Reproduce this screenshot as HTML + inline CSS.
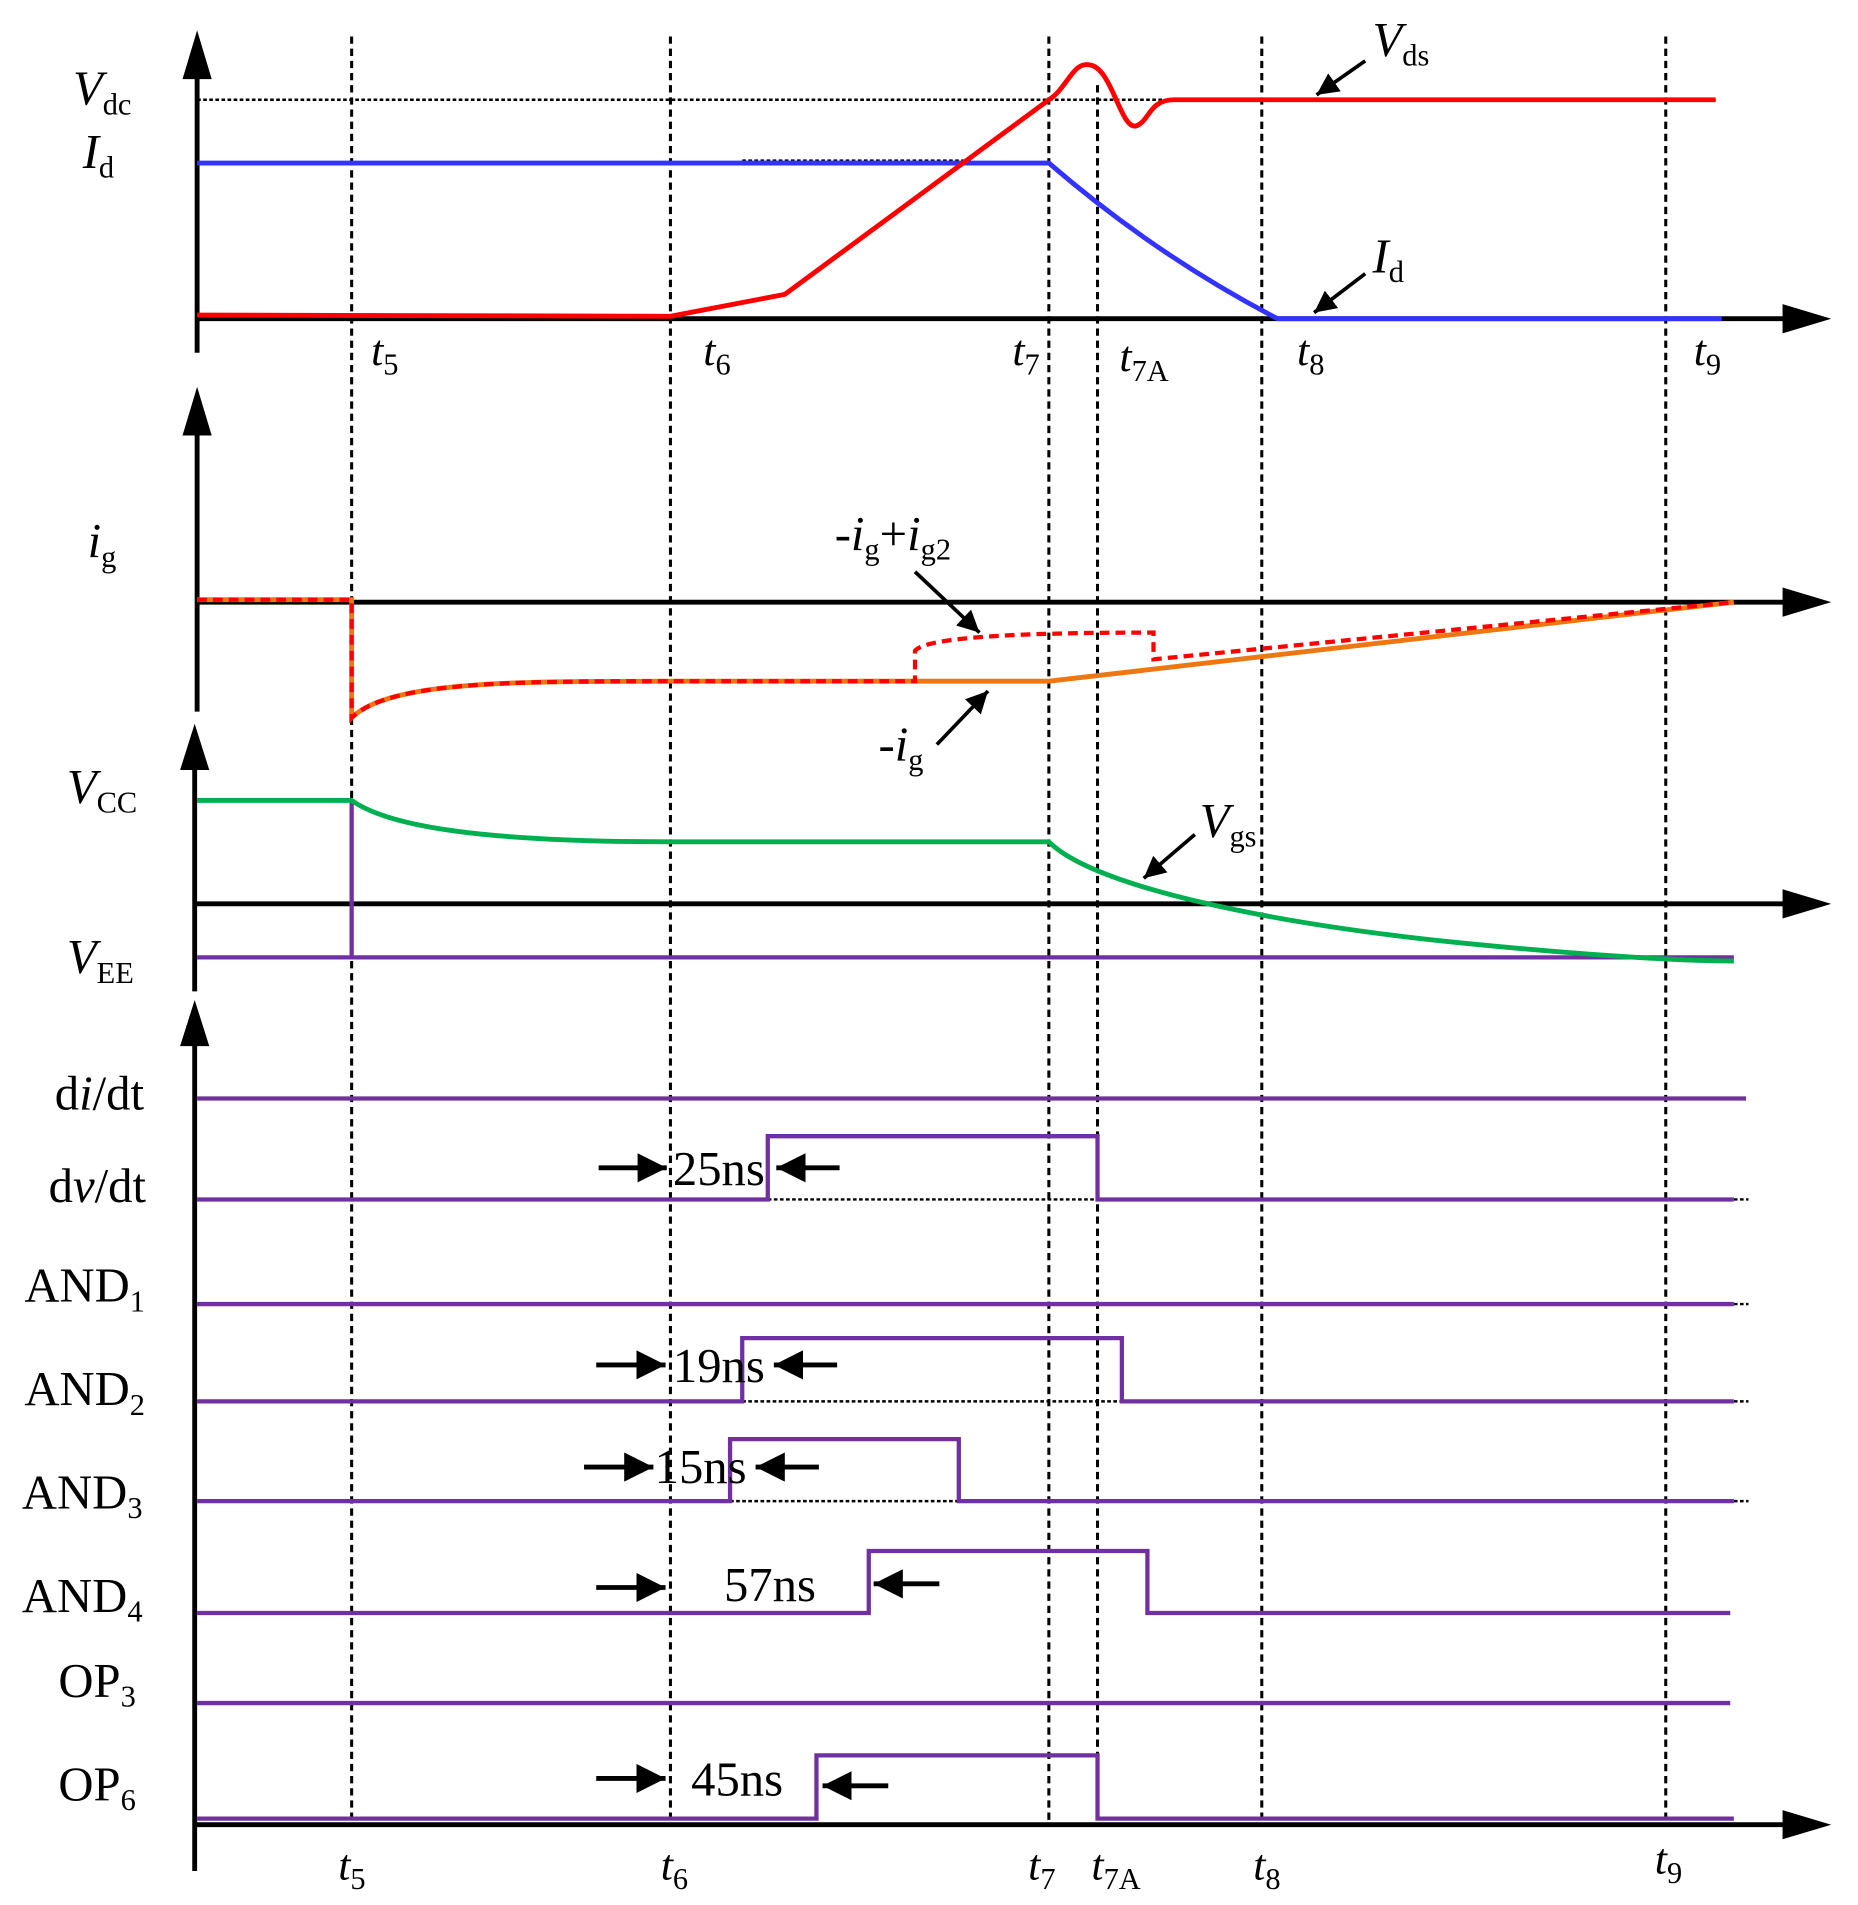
<!DOCTYPE html>
<html><head><meta charset="utf-8"><style>
html,body{margin:0;padding:0;background:#fff}
svg{display:block}
text{font-family:"Liberation Serif",serif;fill:#000}
.l{font-size:40px}
.t{font-size:36px;font-style:italic}
.s{font-size:25px;font-style:normal}
</style></head><body>
<svg width="1858" height="1905" viewBox="0 0 1527 1566" preserveAspectRatio="none" xmlns="http://www.w3.org/2000/svg">
<defs>
<marker id="ah" viewBox="0 0 10 10" refX="10" refY="5" markerWidth="6" markerHeight="6" orient="auto"><path d="M0,0 L10,5 L0,10z" fill="#000"/></marker>
</defs>
<g stroke="#000" stroke-width="2.5" stroke-dasharray="6,4">
<line x1="289" y1="30" x2="289" y2="1500"/>
<line x1="551" y1="30" x2="551" y2="1500"/>
<line x1="862" y1="30" x2="862" y2="1500"/>
<line x1="902" y1="70" x2="902" y2="1500"/>
<line x1="1037" y1="30" x2="1037" y2="1500"/>
<line x1="1369" y1="30" x2="1369" y2="1500"/>
</g>
<g stroke="#000" stroke-width="4" fill="none">
<line x1="162" y1="290" x2="162" y2="60"/>
<line x1="162" y1="262" x2="1470" y2="262"/>
<line x1="162" y1="585" x2="162" y2="350"/>
<line x1="162" y1="495" x2="1470" y2="495"/>
<line x1="160" y1="815" x2="160" y2="625"/>
<line x1="160" y1="743" x2="1470" y2="743"/>
<line x1="160" y1="1538" x2="160" y2="855"/>
<line x1="160" y1="1500" x2="1470" y2="1500"/>
</g>
<g fill="#000">
<path d="M150,65 L162,25 L174,65z"/><path d="M1465,250 L1505,262 L1465,274z"/>
<path d="M150,358 L162,318 L174,358z"/><path d="M1465,483 L1505,495 L1465,507z"/>
<path d="M148,633 L160,595 L172,633z"/><path d="M1465,731 L1505,743 L1465,755z"/>
<path d="M148,860 L160,822 L172,860z"/><path d="M1465,1488 L1505,1500 L1465,1512z"/>
</g>
<line x1="162" y1="82" x2="1410" y2="82" stroke="#000" stroke-width="2" stroke-dasharray="3,2"/>
<line x1="610" y1="132" x2="800" y2="132" stroke="#000" stroke-width="2" stroke-dasharray="3,2"/>
<path d="M162,134 L862,134 Q950,210 1050,262 L1415,262" stroke="#3333ff" stroke-width="4" fill="none"/>
<path d="M162,259 L551,260 L645,242 L862,82 C878,72 882,48 898,54 C915,60 922,110 935,103 C945,98 945,82 965,82 L1410,82" stroke="#ff0000" stroke-width="4" fill="none"/>
<text class="l" x="60" y="86"><tspan font-style="italic">V</tspan><tspan class="s" dy="8">dc</tspan></text>
<text class="l" x="68" y="138"><tspan font-style="italic">I</tspan><tspan class="s" dy="8">d</tspan></text>
<text class="l" x="1128" y="46"><tspan font-style="italic">V</tspan><tspan class="s" dy="8">ds</tspan></text>
<line x1="1122" y1="50" x2="1082" y2="78" stroke="#000" stroke-width="3" marker-end="url(#ah)"/>
<text class="l" x="1128" y="224"><tspan font-style="italic">I</tspan><tspan class="s" dy="8">d</tspan></text>
<line x1="1122" y1="225" x2="1080" y2="257" stroke="#000" stroke-width="3" marker-end="url(#ah)"/>
<text class="t" x="305" y="300">t<tspan class="s" dy="8">5</tspan></text>
<text class="t" x="578" y="300">t<tspan class="s" dy="8">6</tspan></text>
<text class="t" x="832" y="300">t<tspan class="s" dy="8">7</tspan></text>
<text class="t" x="920" y="305">t<tspan class="s" dy="8">7A</tspan></text>
<text class="t" x="1066" y="300">t<tspan class="s" dy="8">8</tspan></text>
<text class="t" x="1392" y="300">t<tspan class="s" dy="8">9</tspan></text>
<path d="M162,493 L289,493 L289,590 C320,560 420,560 551,560 L862,560 L1425,495" stroke="#ee7711" stroke-width="4" fill="none"/>
<path d="M162,493 L289,493 L289,590 C320,560 420,560 551,560 L752,560 L752,535 C760,525 820,520 948,520 L948,542 L1425,495" stroke="#ff0000" stroke-width="3.5" stroke-dasharray="8,5" fill="none"/>
<text class="l" x="72" y="458"><tspan font-style="italic">i</tspan><tspan class="s" dy="8">g</tspan></text>
<text class="l" x="686" y="452">-<tspan font-style="italic">i</tspan><tspan class="s" dy="8">g</tspan><tspan dy="-8">+</tspan><tspan font-style="italic">i</tspan><tspan class="s" dy="8">g2</tspan></text>
<line x1="752" y1="470" x2="805" y2="520" stroke="#000" stroke-width="3" marker-end="url(#ah)"/>
<text class="l" x="722" y="625">-<tspan font-style="italic">i</tspan><tspan class="s" dy="8">g</tspan></text>
<line x1="770" y1="612" x2="812" y2="568" stroke="#000" stroke-width="3" marker-end="url(#ah)"/>
<path d="M162,787 L289,787 M289,658 L289,787 L1425,787" stroke="#7030a0" stroke-width="3.5" fill="none"/>
<path d="M162,658 L289,658 C320,680 400,692 551,692 L862,692 C900,730 1050,760 1200,775 C1300,785 1380,790 1425,790" stroke="#00b050" stroke-width="4" fill="none"/>
<text class="l" x="55" y="660"><tspan font-style="italic">V</tspan><tspan class="s" dy="8">CC</tspan></text>
<text class="l" x="55" y="800"><tspan font-style="italic">V</tspan><tspan class="s" dy="8">EE</tspan></text>
<text class="l" x="986" y="688"><tspan font-style="italic">V</tspan><tspan class="s" dy="8">gs</tspan></text>
<line x1="982" y1="686" x2="940" y2="722" stroke="#000" stroke-width="3" marker-end="url(#ah)"/>
<g stroke="#000" stroke-width="2" stroke-dasharray="3,2">
<line x1="631" y1="986" x2="902" y2="986"/><line x1="1425" y1="986" x2="1437" y2="986"/>
<line x1="1425" y1="1072" x2="1437" y2="1072"/>
<line x1="610" y1="1152" x2="922" y2="1152"/><line x1="1425" y1="1152" x2="1437" y2="1152"/>
<line x1="600" y1="1234" x2="788" y2="1234"/><line x1="1425" y1="1234" x2="1437" y2="1234"/>
</g>
<g stroke="#7030a0" stroke-width="3.5" fill="none">
<path d="M162,903 L1435,903"/>
<path d="M162,986 L631,986 L631,934 L902,934 L902,986 L1425,986"/>
<path d="M162,1072 L1425,1072"/>
<path d="M162,1152 L610,1152 L610,1100 L922,1100 L922,1152 L1425,1152"/>
<path d="M162,1234 L600,1234 L600,1183 L788,1183 L788,1234 L1425,1234"/>
<path d="M162,1326 L714,1326 L714,1275 L943,1275 L943,1326 L1422,1326"/>
<path d="M162,1400 L1422,1400"/>
<path d="M162,1495 L671,1495 L671,1443 L902,1443 L902,1495 L1425,1495"/>
</g>
<text class="l" x="45" y="912">d<tspan font-style="italic">i</tspan>/dt</text>
<text class="l" x="40" y="988">d<tspan font-style="italic">v</tspan>/dt</text>
<text class="l" x="20" y="1070">AND<tspan class="s" dy="8">1</tspan></text>
<text class="l" x="20" y="1155">AND<tspan class="s" dy="8">2</tspan></text>
<text class="l" x="18" y="1240">AND<tspan class="s" dy="8">3</tspan></text>
<text class="l" x="18" y="1325">AND<tspan class="s" dy="8">4</tspan></text>
<text class="l" x="48" y="1395">OP<tspan class="s" dy="8">3</tspan></text>
<text class="l" x="48" y="1480">OP<tspan class="s" dy="8">6</tspan></text>
<text class="l" x="553" y="974">25ns</text>
<text class="l" x="553" y="1136">19ns</text>
<text class="l" x="538" y="1219">15ns</text>
<text class="l" x="595" y="1316">57ns</text>
<text class="l" x="568" y="1476">45ns</text>
<g stroke="#000" stroke-width="4">
<line x1="492" y1="960" x2="548" y2="960" marker-end="url(#ah)"/><line x1="690" y1="960" x2="638" y2="960" marker-end="url(#ah)"/>
<line x1="490" y1="1122" x2="547" y2="1122" marker-end="url(#ah)"/><line x1="688" y1="1122" x2="636" y2="1122" marker-end="url(#ah)"/>
<line x1="480" y1="1206" x2="537" y2="1206" marker-end="url(#ah)"/><line x1="673" y1="1206" x2="621" y2="1206" marker-end="url(#ah)"/>
<line x1="490" y1="1305" x2="547" y2="1305" marker-end="url(#ah)"/><line x1="772" y1="1302" x2="718" y2="1302" marker-end="url(#ah)"/>
<line x1="490" y1="1462" x2="547" y2="1462" marker-end="url(#ah)"/><line x1="730" y1="1468" x2="676" y2="1468" marker-end="url(#ah)"/>
</g>
<text class="t" x="278" y="1545">t<tspan class="s" dy="8">5</tspan></text>
<text class="t" x="543" y="1545">t<tspan class="s" dy="8">6</tspan></text>
<text class="t" x="845" y="1545">t<tspan class="s" dy="8">7</tspan></text>
<text class="t" x="897" y="1545">t<tspan class="s" dy="8">7A</tspan></text>
<text class="t" x="1030" y="1545">t<tspan class="s" dy="8">8</tspan></text>
<text class="t" x="1360" y="1540">t<tspan class="s" dy="8">9</tspan></text>
</svg>
</body></html>
